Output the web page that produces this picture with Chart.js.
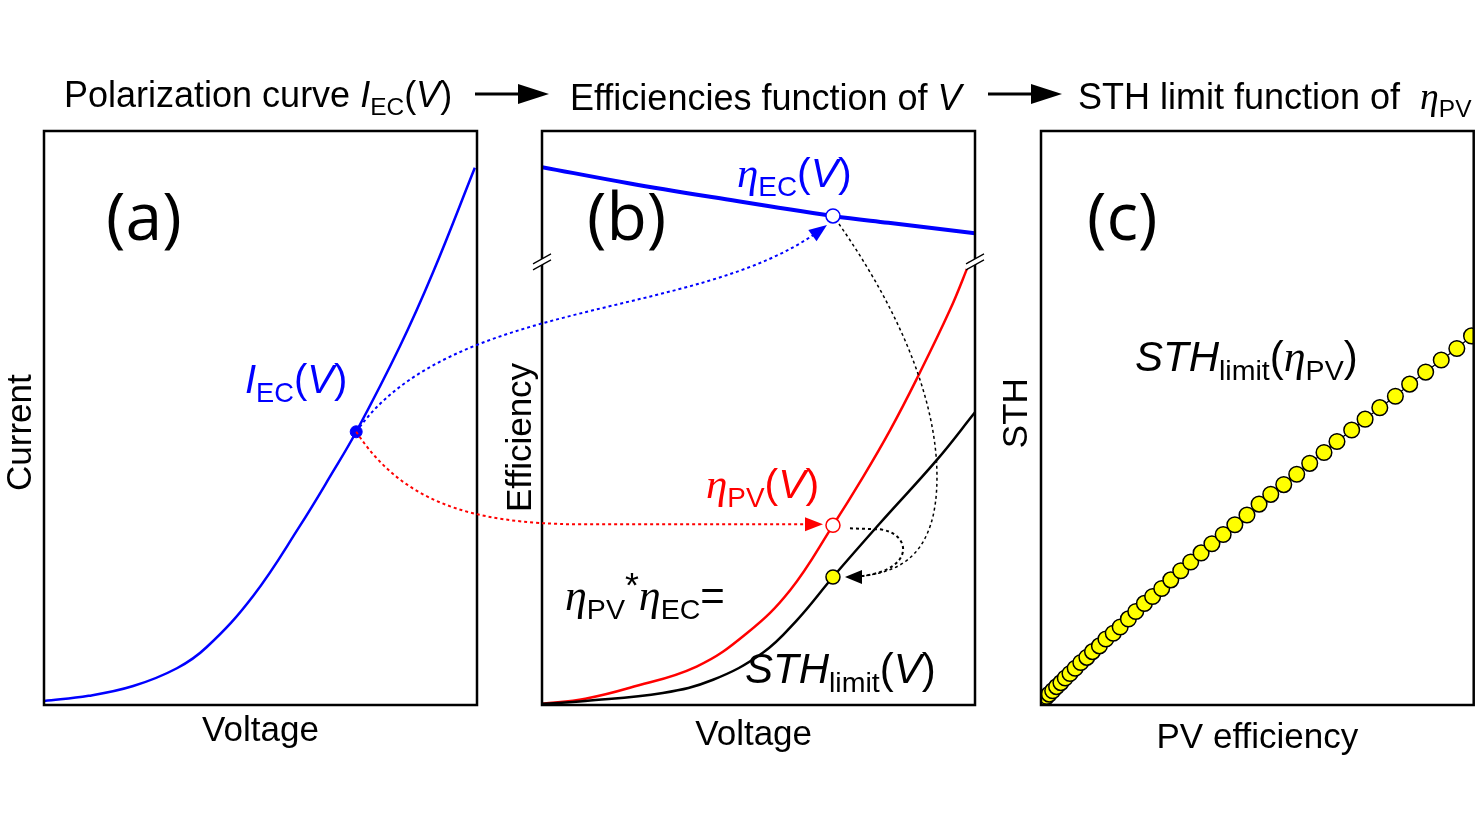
<!DOCTYPE html>
<html>
<head>
<meta charset="utf-8">
<script src="https://cdn.jsdelivr.net/npm/chart.js@4.4.0/dist/chart.umd.min.js"></script>
<style>
html, body { margin: 0; padding: 0; background: #fff; width: 1483px; height: 835px; overflow: hidden; }
canvas { position: absolute; top: 0; }
#ca { left: 0; }
#cb { left: 500px; }
#cc { left: 996px; }
#over { left: 0; pointer-events: none; }
</style>
</head>
<body>
<canvas id="ca" width="500" height="835"></canvas>
<canvas id="cb" width="500" height="835"></canvas>
<canvas id="cc" width="487" height="835"></canvas>
<canvas id="over" width="1483" height="835"></canvas>
<script>
// (a) polarization curve, arbitrary units 0..1
const voltageA = [0, 0.103, 0.206, 0.307, 0.376, 0.483, 0.591, 0.667, 0.721, 0.822, 0.898, 0.995];
const currentA = [0.007, 0.016, 0.033, 0.064, 0.101, 0.190, 0.312, 0.406, 0.476, 0.625, 0.753, 0.936];
const opVoltageA = [0.721];
const opCurrentA = [0.476];

// (b) efficiencies vs voltage
const voltageEC = [0, 0.2, 0.4, 0.672, 0.8, 1];
const etaEC = [0.937, 0.909, 0.884, 0.852, 0.840, 0.822];
const voltagePV = [0, 0.1, 0.203, 0.357, 0.473, 0.573, 0.672, 0.742, 0.804, 0.864, 0.942, 0.988];
const etaPV = [0.002, 0.011, 0.030, 0.067, 0.125, 0.200, 0.313, 0.398, 0.479, 0.566, 0.688, 0.772];
const voltageSTH = [0, 0.1, 0.279, 0.395, 0.510, 0.589, 0.672, 0.781, 0.912, 1];
const sthV = [0.002, 0.007, 0.021, 0.044, 0.091, 0.148, 0.223, 0.317, 0.427, 0.510];
const opVoltageB = [0.672];
const opEtaEC = [0.852];
const opEtaPV = [0.313];
const opSTH = [0.223];
const breakLevel = 0.772;

// (c) STH limit vs PV efficiency
const pvEff = [0.002, 0.004, 0.008, 0.013, 0.019, 0.027, 0.036, 0.046, 0.056, 0.067, 0.079, 0.092,
  0.106, 0.119, 0.135, 0.150, 0.167, 0.183, 0.202, 0.219, 0.239, 0.258, 0.279, 0.300, 0.323, 0.346,
  0.370, 0.395, 0.421, 0.448, 0.476, 0.504, 0.531, 0.561, 0.591, 0.621, 0.654, 0.684, 0.718, 0.749,
  0.783, 0.819, 0.852, 0.889, 0.925, 0.961, 0.995];
const sthLimit = [0.004, 0.006, 0.010, 0.015, 0.019, 0.025, 0.032, 0.039, 0.047, 0.055, 0.064, 0.074,
  0.083, 0.093, 0.103, 0.115, 0.125, 0.136, 0.150, 0.163, 0.177, 0.189, 0.203, 0.218, 0.234, 0.249,
  0.265, 0.281, 0.297, 0.314, 0.331, 0.350, 0.367, 0.384, 0.402, 0.421, 0.440, 0.459, 0.479, 0.498,
  0.518, 0.538, 0.559, 0.580, 0.601, 0.621, 0.643];

function zip(xs, ys) { return xs.map((x, i) => ({x: x, y: ys[i]})); }

const boxPlugin = {
  id: 'box',
  afterDraw(chart) {
    const a = chart.chartArea, ctx = chart.ctx;
    ctx.save();
    ctx.strokeStyle = '#000';
    ctx.lineWidth = 2.5;
    ctx.strokeRect(a.left, a.top, a.right - a.left, a.bottom - a.top);
    const lvl = chart.options.plugins.box && chart.options.plugins.box.breakAt;
    if (lvl !== undefined) {
      const y = chart.scales.y.getPixelForValue(lvl);
      [a.left, a.right].forEach(x => {
        ctx.fillStyle = '#fff';
        ctx.beginPath();
        ctx.moveTo(x - 9, y + 2); ctx.lineTo(x + 9, y - 8);
        ctx.lineTo(x + 9, y - 2); ctx.lineTo(x - 9, y + 8);
        ctx.closePath(); ctx.fill();
        ctx.lineWidth = 1.2;
        ctx.beginPath();
        ctx.moveTo(x - 9, y + 2); ctx.lineTo(x + 9, y - 8);
        ctx.moveTo(x - 9, y + 8); ctx.lineTo(x + 9, y - 2);
        ctx.stroke();
      });
    }
    ctx.restore();
  }
};

function makeOptions(xTitle, yTitle, yWidth, xHeight, padRight, breakAt) {
  const titleFont = {family: 'Liberation Sans', size: 35};
  return {
    responsive: false,
    animation: false,
    devicePixelRatio: 1,
    layout: {padding: {left: 0, right: padRight, top: 131, bottom: 130 - xHeight}},
    plugins: {legend: {display: false}, tooltip: {enabled: false}, box: {breakAt: breakAt}},
    elements: {line: {tension: 0.4}},
    scales: {
      x: {
        type: 'linear', min: 0, max: 1,
        ticks: {display: false}, grid: {display: false}, border: {display: false},
        title: {display: true, text: xTitle, color: '#000', font: titleFont, padding: 0},
        afterFit: s => { s.height = xHeight; }
      },
      y: {
        type: 'linear', min: 0, max: 1,
        ticks: {display: false}, grid: {display: false}, border: {display: false},
        title: {display: true, text: yTitle, color: '#000', font: titleFont, padding: 0},
        afterFit: s => { s.width = yWidth; }
      }
    }
  };
}

const chartA = new Chart(document.getElementById('ca'), {
  type: 'scatter',
  data: {
    datasets: [
      {data: zip(opVoltageA, opCurrentA), pointRadius: 6, pointBackgroundColor: '#0000ff', pointBorderColor: '#0000ff', showLine: false},
      {data: zip(voltageA, currentA), showLine: true, borderColor: '#0000ff', borderWidth: 2.5, pointRadius: 0}
    ]
  },
  options: makeOptions('Voltage', 'Current   ', 44, 47, 23),
  plugins: [boxPlugin]
});

const chartB = new Chart(document.getElementById('cb'), {
  type: 'scatter',
  data: {
    datasets: [
      {data: zip(opVoltageB, opSTH), pointRadius: 7, pointBackgroundColor: '#ffff00', pointBorderColor: '#000', pointBorderWidth: 1.5, showLine: false},
      {data: zip(opVoltageB, opEtaPV), pointRadius: 7, pointBackgroundColor: '#fff', pointBorderColor: '#ff0000', pointBorderWidth: 1.5, showLine: false},
      {data: zip(opVoltageB, opEtaEC), pointRadius: 7, pointBackgroundColor: '#fff', pointBorderColor: '#0000ff', pointBorderWidth: 1.5, showLine: false},
      {data: zip(voltageSTH, sthV), showLine: true, borderColor: '#000', borderWidth: 2.5, pointRadius: 0},
      {data: zip(voltagePV, etaPV), showLine: true, borderColor: '#ff0000', borderWidth: 2.5, pointRadius: 0},
      {data: zip(voltageEC, etaEC), showLine: true, borderColor: '#0000ff', borderWidth: 4, pointRadius: 0}
    ]
  },
  options: makeOptions('Voltage ', 'Efficiency    ', 42, 51, 25, breakLevel),
  plugins: [boxPlugin]
});

const chartC = new Chart(document.getElementById('cc'), {
  type: 'scatter',
  data: {
    datasets: [
      {data: zip(pvEff, sthLimit), showLine: true, borderColor: '#000', borderWidth: 1.2, tension: 0,
       pointRadius: 7.8, pointBackgroundColor: '#ffff00', pointBorderColor: '#000', pointBorderWidth: 1.5}
    ]
  },
  options: makeOptions('PV efficiency', ' STH', 45, 54, 9),
  plugins: [boxPlugin]
});

// ---- overlay: headings, labels and the arrows between panels ----
const ov = document.getElementById('over').getContext('2d');

function drawRich(ctx, x, y, parts, size, color) {
  ctx.save();
  ctx.fillStyle = color;
  ctx.textBaseline = 'alphabetic';
  ctx.textAlign = 'left';
  let cx = x;
  for (const [t, k] of parts) {
    let fs = size, dy = 0;
    if (k === 'sub') { fs = size * 0.68; dy = size * 0.22; }
    if (k === 'sup') { fs = size * 0.85; dy = -size * 0.32; }
    if (k === 'g') ctx.font = 'italic ' + (size * 1.05) + 'px "Liberation Serif"';
    else ctx.font = (k === 'i' ? 'italic ' : '') + fs + 'px "Liberation Sans"';
    ctx.fillText(t, cx, y + dy);
    cx += ctx.measureText(t).width;
  }
  ctx.restore();
}

function pt(chart, left, x, y) {
  return {x: left + chart.scales.x.getPixelForValue(x), y: chart.scales.y.getPixelForValue(y)};
}

function head(ctx, tip, from, len, half, color) {
  const ang = Math.atan2(tip.y - from.y, tip.x - from.x);
  ctx.save();
  ctx.fillStyle = color;
  ctx.translate(tip.x, tip.y);
  ctx.rotate(ang);
  ctx.beginPath();
  ctx.moveTo(0, 0); ctx.lineTo(-len, -half); ctx.lineTo(-len, half);
  ctx.closePath(); ctx.fill();
  ctx.restore();
}

// headings
drawRich(ov, 64, 107, [['Polarization curve ', 'n'], ['I', 'i'], ['EC', 'sub'], ['(', 'n'], ['V', 'i'], [')', 'n']], 36, '#000');
drawRich(ov, 570, 110, [['Efficiencies function of ', 'n'], ['V', 'i']], 36, '#000');
drawRich(ov, 1078, 109, [['STH limit function of  ', 'n'], ['η', 'g'], ['PV', 'sub']], 36, '#000');
[[475, 522, 549], [988, 1035, 1062]].forEach(([x0, x1, x2]) => {
  ov.save();
  ov.strokeStyle = '#000'; ov.lineWidth = 3;
  ov.beginPath(); ov.moveTo(x0, 94); ov.lineTo(x1, 94); ov.stroke();
  ov.restore();
  head(ov, {x: x2, y: 94}, {x: x0, y: 94}, x2 - x1 + 4, 10, '#000');
});

// panel letters
ov.save();
ov.fillStyle = '#000';
ov.font = '66px "Open Sans"';
ov.fillText('(a)', 106, 240);
ov.fillText('(b)', 587, 240);
ov.fillText('(c)', 1087, 240);
ov.restore();

// curve labels
drawRich(ov, 245, 393, [['I', 'i'], ['EC', 'sub'], ['(', 'n'], ['V', 'i'], [')', 'n']], 40, '#0000ff');
drawRich(ov, 737, 187, [['η', 'g'], ['EC', 'sub'], ['(', 'n'], ['V', 'i'], [')', 'n']], 41, '#0000ff');
drawRich(ov, 706, 498, [['η', 'g'], ['PV', 'sub'], ['(', 'n'], ['V', 'i'], [')', 'n']], 41, '#ff0000');
drawRich(ov, 565, 610, [['η', 'g'], ['PV', 'sub'], ['*', 'sup'], ['η', 'g'], ['EC', 'sub'], ['=', 'n']], 42, '#000');
drawRich(ov, 745, 683, [['STH', 'i'], ['limit', 'sub'], ['(', 'n'], ['V', 'i'], [')', 'n']], 42, '#000');
drawRich(ov, 1135, 371, [['STH', 'i'], ['limit', 'sub'], ['(', 'n'], ['η', 'g'], ['PV', 'sub'], [')', 'n']], 42, '#000');

// arrows linking the operating points
const pA = pt(chartA, 0, opVoltageA[0], opCurrentA[0]);
const pE = pt(chartB, 500, opVoltageB[0], opEtaEC[0]);
const pP = pt(chartB, 500, opVoltageB[0], opEtaPV[0]);
const pS = pt(chartB, 500, opVoltageB[0], opSTH[0]);

function dotted(color, width, draw) {
  ov.save();
  ov.strokeStyle = color; ov.lineWidth = width;
  ov.setLineDash([3, 3]);
  ov.beginPath(); draw(); ov.stroke();
  ov.restore();
}

// blue: I_EC -> eta_EC
const tB = {x: pE.x - 6, y: pE.y + 9};
const cB2 = {x: tB.x - 130, y: tB.y + 95};
dotted('#0000ff', 2, () => {
  ov.moveTo(pA.x, pA.y);
  ov.bezierCurveTo(pA.x + 95, pA.y - 135, cB2.x, cB2.y, tB.x - 8, tB.y + 6);
});
head(ov, tB, cB2, 18, 7, '#0000ff');

// red: I_EC -> eta_PV
const tR = {x: pP.x - 10, y: pP.y - 1};
dotted('#ff0000', 2, () => {
  ov.moveTo(pA.x, pA.y);
  ov.bezierCurveTo(pA.x + 45, pA.y + 68, pA.x + 110, pA.y + 92, pA.x + 224, tR.y);
  ov.lineTo(tR.x - 16, tR.y);
});
head(ov, tR, {x: tR.x - 30, y: tR.y}, 18, 7, '#ff0000');

// black: eta_EC and eta_PV -> STH
const tK = {x: pS.x + 12, y: pS.y};
const jK = {x: pS.x + 29, y: pS.y - 1};
dotted('#000', 1.5, () => {
  ov.moveTo(pE.x + 6, pE.y + 8);
  ov.bezierCurveTo(pE.x + 59, pE.y + 84, pS.x + 104, pS.y - 185, pS.x + 104, pS.y - 100);
  ov.bezierCurveTo(pS.x + 104, pS.y - 22, pS.x + 67, pS.y - 5, jK.x, jK.y);
});
dotted('#000', 2, () => {
  ov.moveTo(pP.x + 17, pP.y + 3);
  ov.lineTo(pP.x + 47, pP.y + 4);
  ov.bezierCurveTo(pP.x + 79, pP.y + 8, pS.x + 82, pS.y - 7, jK.x, jK.y);
});
head(ov, tK, {x: tK.x + 30, y: tK.y}, 17, 7, '#000');
</script>
</body>
</html>
